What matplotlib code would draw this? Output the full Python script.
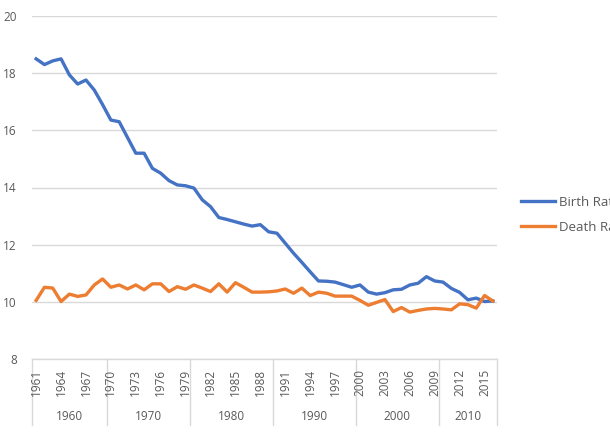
import matplotlib
matplotlib.use("Agg")
import matplotlib.pyplot as plt
from matplotlib.transforms import blended_transform_factory

years = list(range(1961, 2017))
birth_rate = [18.5, 18.3, 18.43, 18.5, 17.94, 17.62, 17.76, 17.41, 16.9, 16.36,
              16.3, 15.75, 15.2, 15.2, 14.67, 14.5, 14.24, 14.09, 14.06, 13.98,
              13.57, 13.33, 12.95, 12.88, 12.8, 12.72, 12.65, 12.7, 12.45, 12.4,
              12.05, 11.7, 11.38, 11.05, 10.73, 10.72, 10.69, 10.6, 10.51, 10.59,
              10.34, 10.27, 10.32, 10.42, 10.44, 10.59, 10.65, 10.88, 10.73, 10.69,
              10.47, 10.33, 10.07, 10.13, 10.01, 10.03]
death_rate = [10.05, 10.51, 10.48, 10.01, 10.27, 10.19, 10.24, 10.59, 10.8, 10.51,
              10.59, 10.45, 10.59, 10.42, 10.63, 10.63, 10.36, 10.53, 10.44, 10.59,
              10.48, 10.36, 10.63, 10.34, 10.67, 10.51, 10.34, 10.34, 10.35, 10.38,
              10.45, 10.3, 10.48, 10.22, 10.34, 10.3, 10.2, 10.2, 10.2, 10.05,
              9.88, 9.98, 10.08, 9.66, 9.8, 9.64, 9.7, 9.75, 9.77, 9.75,
              9.72, 9.93, 9.9, 9.78, 10.22, 10.03]
series_names = ["Birth Rate", "Death Rate"]
y_ticks = [8, 10, 12, 14, 16, 18, 20]
label_step = 3

plt.rcParams['font.family'] = ['Open Sans', 'DejaVu Sans']
TXT = '#595959'
GRID = '#d9d9d9'
BLUE = '#4472C4'
ORANGE = '#ED7D31'

W, H = 610, 441
fig = plt.figure(figsize=(W / 100, H / 100), dpi=100)
ax = fig.add_axes([32 / W, 1 - 359 / H, (497 - 32) / W, (359 - 16) / H])

x = list(range(len(years)))
ax.plot(x, birth_rate, color=BLUE, lw=2.4, solid_joinstyle='round', label=series_names[0])
ax.plot(x, death_rate, color=ORANGE, lw=2.4, solid_joinstyle='round', label=series_names[1])

ax.set_xlim(-0.5, len(years) - 0.5)
ax.set_ylim(y_ticks[0], y_ticks[-1])
ax.set_yticks(y_ticks)
ax.set_yticklabels([str(v) for v in y_ticks], color=TXT, fontsize=8.5)
ax.tick_params(axis='y', length=0, pad=11)
ax.tick_params(axis='x', length=0)
ax.set_xticks([])
for s in ['left', 'right', 'top']:
    ax.spines[s].set_visible(False)
ax.spines['bottom'].set_color(GRID)
ax.spines['bottom'].set_linewidth(1)
ax.grid(axis='y', color=GRID, lw=1)
ax.set_axisbelow(True)

tr = blended_transform_factory(ax.transData, ax.transAxes)
px = 1 / (359 - 16)  # one pixel in axes fraction

# year labels
for i, yr in enumerate(years):
    if i % label_step == 0:
        ax.text(i, -10 * px, str(yr), transform=tr, rotation=90, ha='center', va='top',
                fontsize=8.5, color=TXT)

# decade groups
decades = sorted(set((yr // 10) * 10 for yr in years))
for d in decades:
    idx = [i for i, yr in enumerate(years) if (yr // 10) * 10 == d]
    start, end = idx[0] - 0.5, idx[-1] + 0.5
    ax.text((start + end) / 2, -58 * px, str(d), transform=tr,
            ha='center', va='center', fontsize=8.5, color=TXT)
    ax.plot([start, start], [0, -66 * px], transform=tr, color=GRID, lw=1, clip_on=False)
ax.plot([len(years) - 0.5] * 2, [0, -66 * px], transform=tr, color=GRID, lw=1, clip_on=False)

fig.legend(loc='upper left', bbox_to_anchor=(521 / W, 1 - 196 / H), frameon=False,
           fontsize=9.5, handlelength=2.6, handletextpad=0.25, labelspacing=0.9,
           borderpad=0, borderaxespad=0, labelcolor=TXT)

fig.savefig('out.png', dpi=100)
